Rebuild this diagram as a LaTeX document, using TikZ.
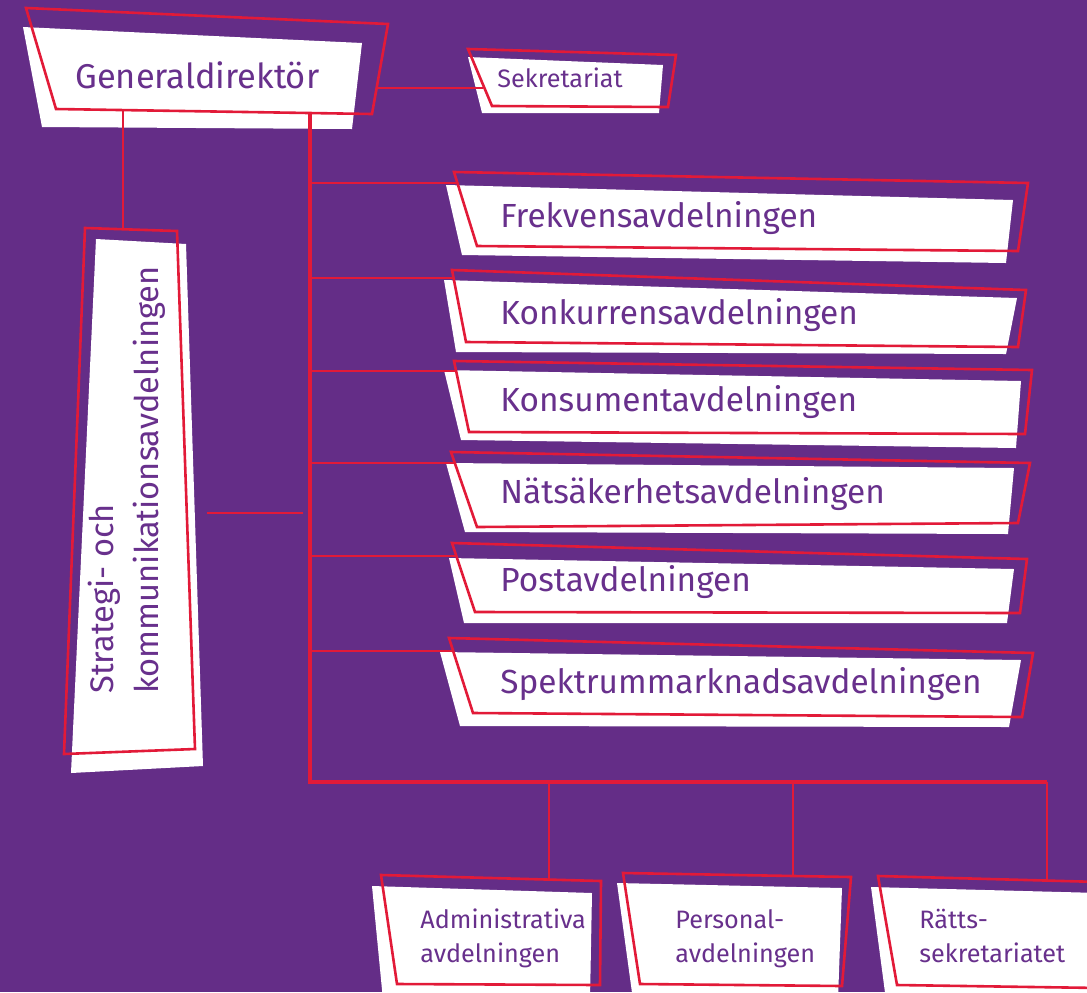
\documentclass[tikz,border=0pt]{standalone}
\usepackage{fontspec}
\setmainfont{Fira Sans}
\definecolor{orgbg}{RGB}{100,45,135}
\definecolor{orgred}{RGB}{226,26,56}
\definecolor{orgtext}{RGB}{104,48,140}
\tikzset{
  paper/.style={fill=white},
  rim/.style={draw=orgred, line width=1.3pt, line join=miter},
  link/.style={draw=orgred, line width=1.2pt},
  trunk/.style={draw=orgred, line width=1.7pt},
  label/.style={anchor=base west, inner sep=0pt, text=orgtext},
  ktop/.style={label, font=\fontsize{17.2}{20}\selectfont},
  kdept/.style={label, font=\fontsize{16.7}{20}\selectfont},
  ksmall/.style={label, align=left, font=\fontsize{12.6}{17}\selectfont},
}

\begin{document}
\begin{tikzpicture}[x=0.5pt, y=-0.5pt]
    \clip (0,0) rectangle (1087,992);
    \fill[orgbg] (0,0) rectangle (1087,992);
    % white cards
    \fill[paper] (23,27) -- (362,43) -- (352,129) -- (42,127) -- cycle;
    \fill[paper] (468,57) -- (663,65) -- (659,113) -- (482,113) -- cycle;
    \fill[paper] (96,239) -- (186,244) -- (203,766) -- (71,773) -- cycle;
    \fill[paper] (446,185) -- (1013,200) -- (1006,263) -- (462,255) -- cycle;
    \fill[paper] (444,280) -- (1017,298) -- (1006,354) -- (456,352) -- cycle;
    \fill[paper] (444,370) -- (1021,381) -- (1016,448) -- (461,440) -- cycle;
    \fill[paper] (446,463) -- (1014,468) -- (1008,534) -- (465,532) -- cycle;
    \fill[paper] (449,558) -- (1014,569) -- (1007,623) -- (464,623) -- cycle;
    \fill[paper] (440,652) -- (1021,660) -- (1009,727) -- (460,726) -- cycle;
    \fill[paper] (372,886) -- (592,893) -- (590,1000) -- (383,1000) -- cycle;
    \fill[paper] (617,883) -- (842,888) -- (838,1000) -- (633,1000) -- cycle;
    \fill[paper] (871,887) -- (1100,893) -- (1100,1000) -- (886,1000) -- cycle;
    % red frames
    \draw[rim] (26,8) -- (388,24) -- (372,114) -- (56,109) -- cycle;
    \draw[rim] (468,49) -- (676,55) -- (668,107) -- (492,106) -- cycle;
    \draw[rim] (85,228) -- (177,231) -- (195,749) -- (64,754) -- cycle;
    \draw[rim] (454,172) -- (1028,183) -- (1018,251) -- (477,246) -- cycle;
    \draw[rim] (452,270) -- (1026,290) -- (1018,347) -- (466,342) -- cycle;
    \draw[rim] (454,361) -- (1032,370) -- (1025,434) -- (469,432) -- cycle;
    \draw[rim] (451,452) -- (1030,463) -- (1018,523) -- (477,527) -- cycle;
    \draw[rim] (452,543) -- (1027,559) -- (1020,613) -- (475,612) -- cycle;
    \draw[rim] (449,638) -- (1033,653) -- (1022,717) -- (473,713) -- cycle;
    \draw[rim] (381,875) -- (601,881) -- (600,985) -- (397,984) -- cycle;
    \draw[rim] (623,873) -- (851,877) -- (842,986) -- (640,984) -- cycle;
    \draw[rim] (878,876) -- (1100,882) -- (1100,988) -- (897,985) -- cycle;

    % attach points
    \coordinate (gd-right) at (376,88);
    \coordinate (gd-left) at (123,110);
    \coordinate (gd-down) at (310,113);
    \coordinate (sek-in) at (483,88);
    \coordinate (strat-in) at (123,229);
    \coordinate (strat-out) at (207,513);
    \coordinate (gap) at (303,513);
    \coordinate (corner) at (310,782);
    \coordinate (far) at (1047,782);
    \coordinate (drop-a) at (549,782);
    \coordinate (drop-b) at (793,782);
    \coordinate (adm-in) at (549,879);
    \coordinate (pers-in) at (793,876);
    \coordinate (ratt-in) at (1047,881);

    % tree
    \draw[link] (gd-right) -- (sek-in);
    \draw[link] (gd-left) -- (strat-in);
    \draw[link] (strat-out) -- (gap);
    \draw[trunk] (gd-down) -- (corner) -- (far);
    \foreach \y/\x/\n in {183/456/frek, 278/454/konk, 371/456/kons, 463/455/nats, 556/456/post, 651/453/spek}{
      \coordinate (\n-in) at (\x,\y);
      \coordinate (\n-out) at (310,\y);
      \draw[link] (\n-out) -- (\n-in);
    }
    \draw[link] (drop-a) -- (adm-in);
    \draw[link] (drop-b) -- (pers-in);
    \draw[link] (far) -- (ratt-in);

    % texts
    \node[ktop] (gd) at (75,88) {Generaldirektör};
    \node[ksmall] (sek) at (497,87) {Sekretariat};
    \node[kdept] (frek) at (500,227) {Frekvensavdelningen};
    \node[kdept] (konk) at (500,324) {Konkurrensavdelningen};
    \node[kdept] (kons) at (500,411) {Konsumentavdelningen};
    \node[kdept] (nats) at (500,503) {Nätsäkerhetsavdelningen};
    \node[kdept] (post) at (500,591) {Postavdelningen};
    \node[kdept] (spek) at (500,693) {Spektrummarknadsavdelningen};
    \node[kdept, anchor=north west, rotate=90, align=left, font=\fontsize{16.3}{22.5}\selectfont] (strat) at (88,694) {Strategi- och\\kommunikationsavdelningen};
    \node[ksmall] (adm) at (420,962) {Administrativa\\avdelningen};
    \node[ksmall] (pers) at (675,962) {Personal-\\avdelningen};
    \node[ksmall] (ratt) at (919,962) {Rätts-\\sekretariatet};
  \end{tikzpicture}
\end{document}
